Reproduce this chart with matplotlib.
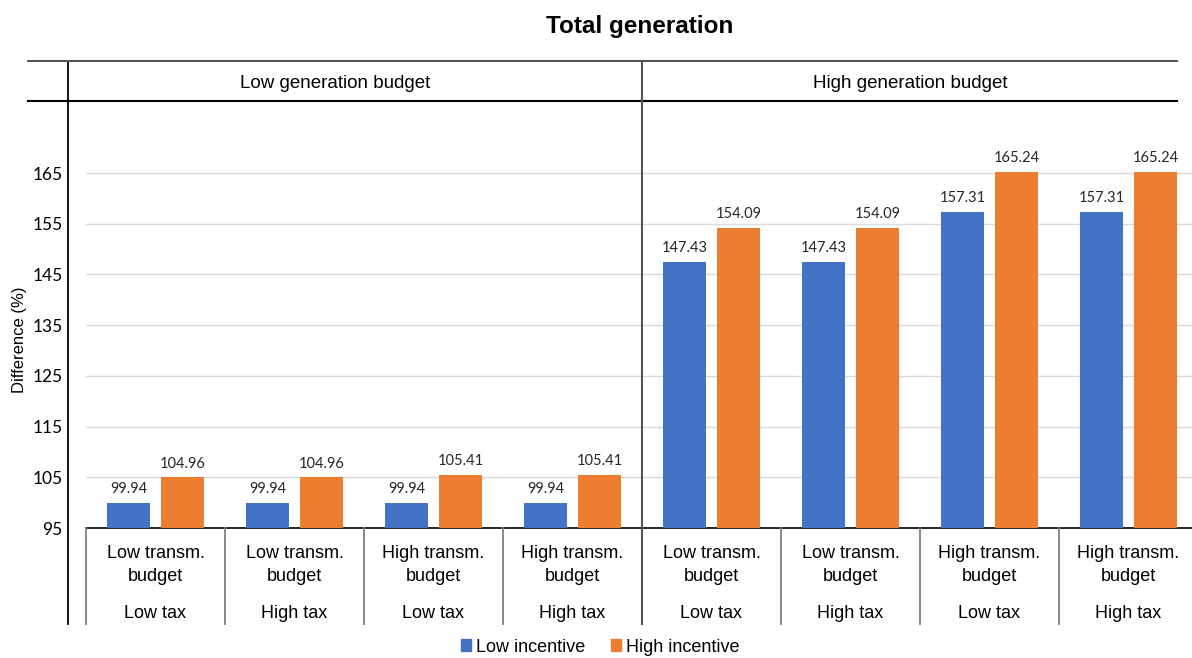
import numpy as np
import matplotlib.pyplot as plt
from matplotlib.lines import Line2D
from matplotlib.patches import Patch

# data
transm = ["Low transm.\nbudget", "Low transm.\nbudget", "High transm.\nbudget", "High transm.\nbudget"] * 2
tax = ["Low tax", "High tax", "Low tax", "High tax"] * 2
groups = ["Low generation budget", "High generation budget"]
low_incentive = [99.94, 99.94, 99.94, 99.94, 147.43, 147.43, 157.31, 157.31]
high_incentive = [104.96, 104.96, 105.41, 105.41, 154.09, 154.09, 165.24, 165.24]
yticks = [95, 105, 115, 125, 135, 145, 155, 165]

narrow = ["Liberation Sans Narrow", "Liberation Sans", "DejaVu Sans"]
numfont = ["Lato", "DejaVu Sans"]
blue = "#4472C4"
orange = "#ED7D31"

W, H = 1192, 658
fig = plt.figure(figsize=(W / 100, H / 100), dpi=100)

# plot area in pixels: x 86..1192, y 100..528
ax = fig.add_axes([86 / W, (H - 528) / H, (W - 86) / W, (528 - 100) / H])
cw = 139.0  # pixels per category
ax.set_xlim(0, (W - 86) / cw)
ax.set_ylim(95, 95 + (528 - 100) / 5.071)

x = np.arange(len(low_incentive)) + 0.5
off = 27 / cw
bw = 43 / cw
ax.bar(x - off, low_incentive, bw, color=blue, zorder=3)
ax.bar(x + off, high_incentive, bw, color=orange, zorder=3)

for xi, v in zip(x - off, low_incentive):
    ax.annotate(f"{v:.2f}", (xi, v), xytext=(0, 5), textcoords="offset points",
                ha="center", va="bottom", fontsize=10.5, family=numfont, color="#262626")
for xi, v in zip(x + off, high_incentive):
    ax.annotate(f"{v:.2f}", (xi, v), xytext=(0, 5), textcoords="offset points",
                ha="center", va="bottom", fontsize=10.5, family=numfont, color="#262626")

ax.set_yticks(yticks)
ax.set_yticklabels([str(t) for t in yticks], family=numfont, fontsize=12.5)
ax.tick_params(axis="y", length=0, pad=17)
ax.set_xticks([])
for t in yticks[1:]:
    ax.axhline(t, color="#D9D9D9", lw=1, zorder=1)
for s in ["top", "right", "left"]:
    ax.spines[s].set_visible(False)
ax.spines["bottom"].set_color("black")
ax.spines["bottom"].set_linewidth(1.2)


def px(xp, yp):
    return xp / W, 1 - yp / H


def hline(y, x0, x1, **kw):
    (a, b), (c, d) = px(x0, y), px(x1, y)
    fig.add_artist(Line2D([a, c], [b, d], **kw))


def vline(xp, y0, y1, **kw):
    (a, b), (c, d) = px(xp, y0), px(xp, y1)
    fig.add_artist(Line2D([a, c], [b, d], **kw))


# header lines and axis lines
hline(61, 28, 1177, color="#404040", lw=1.3)
hline(100.5, 28, 1177, color="black", lw=1.5)
vline(68, 63, 624, color="black", lw=1.3)
vline(642, 63, 624, color="#555555", lw=1.5)
for i in [0, 1, 2, 3, 5, 6, 7]:
    vline(86 + i * cw, 528, 624, color="#7f7f7f", lw=1.3)

# category labels
for i in range(len(transm)):
    cx = 86 + (i + 0.5) * cw
    fig.text(*px(cx, 565), transm[i], ha="center", va="center", fontsize=13,
             family=narrow, linespacing=1.45)
    fig.text(*px(cx, 613), tax[i], ha="center", va="center", fontsize=13, family=narrow)

# group headers
fig.text(*px(335, 83), groups[0], ha="center", va="center", fontsize=13.5, family=narrow)
fig.text(*px(910, 83), groups[1], ha="center", va="center", fontsize=13.5, family=narrow)

fig.text(*px(640, 26), "Total generation", ha="center", va="center", fontsize=17.5,
         fontweight="bold", family=narrow)
fig.text(*px(20, 340), "Difference (%)", ha="center", va="center", rotation=90,
         fontsize=12, family=narrow)

handles = [Patch(color=blue, label="Low incentive"), Patch(color=orange, label="High incentive")]
fig.legend(handles=handles, loc="center", bbox_to_anchor=px(600, 647), ncol=2, frameon=False,
           prop={"family": narrow, "size": 13}, handlelength=0.6, handleheight=0.6,
           handletextpad=0.25, columnspacing=1.4)

fig.savefig("out.png", dpi=100)
